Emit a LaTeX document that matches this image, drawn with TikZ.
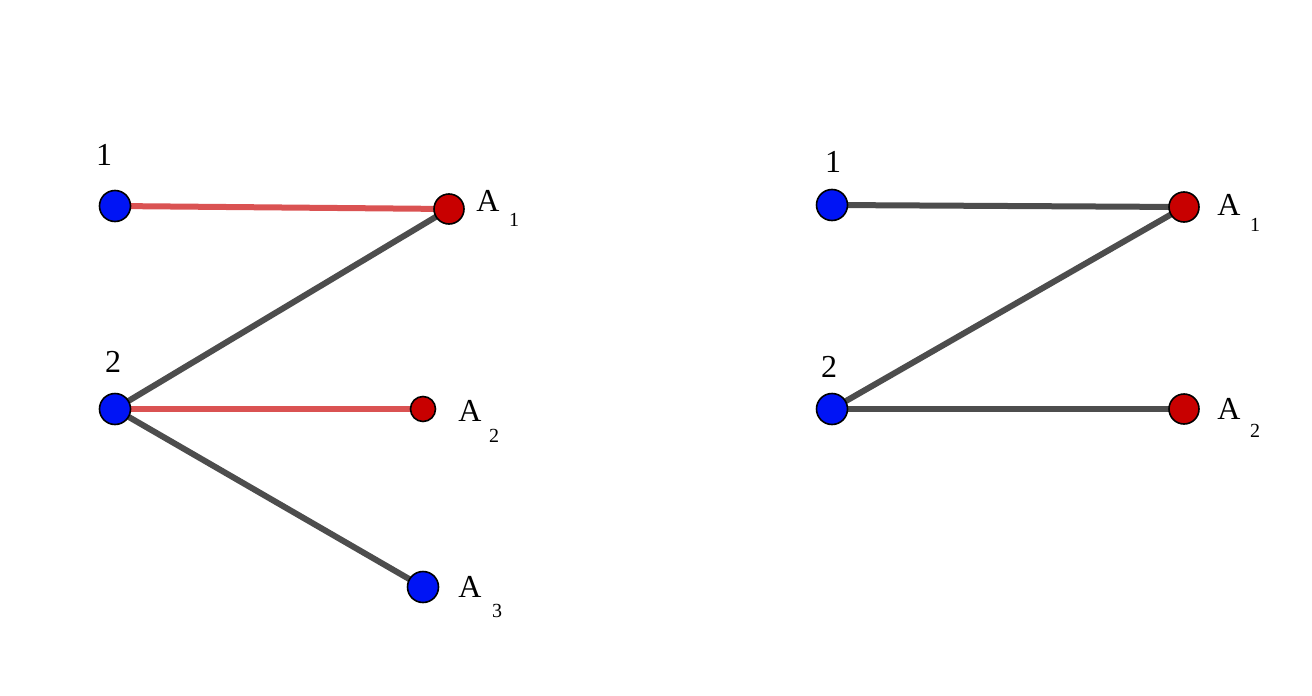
\documentclass[tikz,border=0pt]{standalone}
\usepackage{fontspec}
\setmainfont{Liberation Serif}
\definecolor{edgered}{RGB}{218,82,82}
\definecolor{edgegray}{RGB}{77,77,77}
\definecolor{nblue}{RGB}{0,20,245}
\definecolor{nred}{RGB}{200,0,0}
\begin{document}
\begin{tikzpicture}[x=1pt,y=-1pt,
  bv/.style={circle,draw=black,line width=1.6pt,fill=nblue,minimum size=31pt,inner sep=0pt},
  rv/.style={circle,draw=black,line width=1.6pt,fill=nred,minimum size=30pt,inner sep=0pt},
  lab/.style={font=\fontsize{32}{36}\selectfont},
  sub/.style={font=\fontsize{20}{22}\selectfont},
  ge/.style={draw=edgegray,line width=6pt},
  re/.style={draw=edgered,line width=6pt}]
\useasboundingbox (0,0) rectangle (1312,696);
% left
\coordinate (L1) at (115,206);
\coordinate (LA1) at (449,209);
\coordinate (L2) at (115,409);
\coordinate (LA2) at (423,409);
\coordinate (LA3) at (423,587);
\draw[re] (L1) -- (LA1);
\draw[ge] (L2) -- (LA1);
\draw[re] (L2) -- (LA2);
\draw[ge] (L2) -- (LA3);
\node[bv] (l1) at (L1) {};
\node[rv] (la1) at (LA1) {};
\node[bv] (l2) at (L2) {};
\node[rv,minimum size=25pt] (la2) at (LA2) {};
\node[bv] (la3) at (LA3) {};
\node[lab] (t1) at (104,155) {1};
\node[lab] (t2) at (113,362) {2};
\node[lab] (ta1) at (488,201) {A};
\node[sub] (sa1) at (514,220) {1};
\node[lab] (ta2) at (470,411) {A};
\node[sub] (sa2) at (494,436) {2};
\node[lab] (ta3) at (470,587) {A};
\node[sub] (sa3) at (497,611) {3};
% right
\coordinate (R1) at (832,205);
\coordinate (RA1) at (1184,207);
\coordinate (R2) at (832,409);
\coordinate (RA2) at (1184,409);
\draw[ge] (R1) -- (RA1);
\draw[ge] (R2) -- (RA1);
\draw[ge] (R2) -- (RA2);
\node[bv] (r1) at (R1) {};
\node[rv] (ra1) at (RA1) {};
\node[bv] (r2) at (R2) {};
\node[rv] (ra2) at (RA2) {};
\node[lab] (u1) at (833,162) {1};
\node[lab] (u2) at (829,367) {2};
\node[lab] (ua1) at (1229,205) {A};
\node[sub] (va1) at (1255,225) {1};
\node[lab] (ua2) at (1229,409) {A};
\node[sub] (va2) at (1255,431) {2};
\end{tikzpicture}
\end{document}
